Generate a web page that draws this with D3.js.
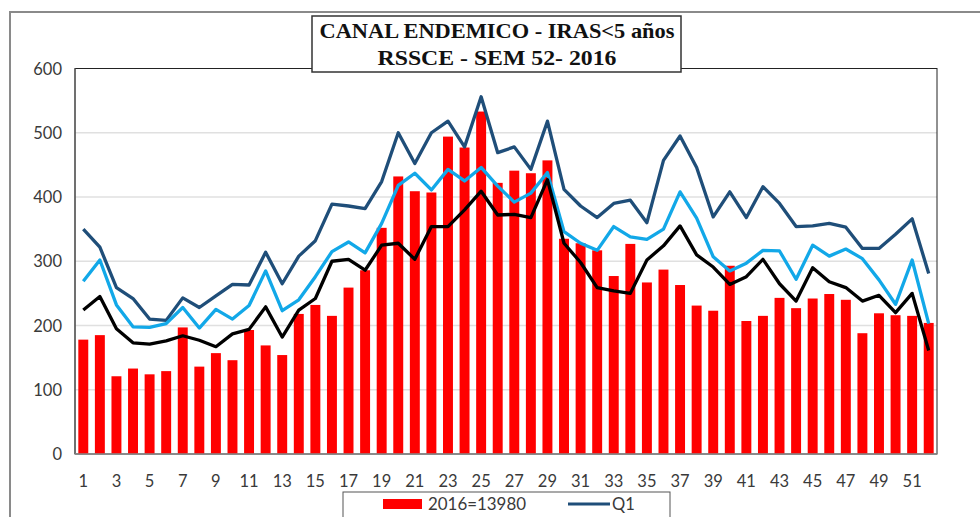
<!DOCTYPE html>
<html>
<head>
<meta charset="utf-8">
<script src="https://cdn.jsdelivr.net/npm/d3@7"></script>
<style>
  body { margin: 0; background: #fff; }
  svg { display: block; font-family: Lato, "Open Sans", sans-serif; }
  .tick-label { font-size: 16.5px; fill: #3a3a3a; }
  .title { font-family: "Liberation Serif", "DejaVu Serif", serif; font-weight: bold; font-size: 22px; fill: #111; }
</style>
</head>
<body>
<div id="chart"></div>
<script>
// semanas epidemiologicas
const weeks = d3.range(1, 53);

// casos 2016 (barras)
const cases2016 = [178, 185, 121, 133, 124, 129, 197, 136, 157, 146,
  193, 169, 154, 218, 232, 215, 259, 286, 352, 432,
  409, 407, 494, 477, 533, 422, 441, 437, 457, 335,
  328, 317, 277, 327, 267, 287, 263, 231, 223, 293,
  207, 215, 243, 227, 242, 249, 240, 188, 219, 216, 215, 204];

// linea superior (azul oscuro)
const q3 = [350, 322, 259, 242, 210, 208, 243, 228, 246, 264,
  263, 314, 265, 308, 332, 389, 386, 382, 424, 500,
  452, 500, 518, 478, 556, 469, 478, 443, 518, 412,
  386, 368, 390, 395, 360, 457, 495, 446, 369, 408,
  368, 416, 390, 354, 355, 359, 353, 320, 320, 342, 366, 281];

// mediana (celeste)
const median = [269, 302, 232, 198, 197, 203, 228, 196, 225, 210,
  231, 285, 223, 240, 276, 315, 330, 313, 359, 418,
  437, 411, 443, 425, 446, 417, 392, 406, 438, 346,
  328, 317, 354, 338, 334, 350, 408, 367, 307, 285,
  297, 317, 316, 272, 325, 308, 319, 304, 271, 233, 302, 203];

// linea inferior (negro)
const q1 = [224, 245, 195, 173, 171, 176, 184, 177, 167, 187,
  194, 229, 182, 224, 242, 300, 303, 286, 325, 328,
  303, 354, 354, 380, 409, 372, 373, 368, 427, 328,
  298, 259, 254, 250, 302, 324, 355, 310, 291, 264,
  276, 303, 265, 238, 290, 268, 259, 238, 247, 220, 250, 161];

const yTicks = [0, 100, 200, 300, 400, 500, 600];
const xLabels = weeks.filter(d => d % 2 === 1);

let width = 980,
    height = 517,
    margin = {top: 68.5, left: 75, right: 43, bottom: 63};

let svg = d3.select('#chart')
    .append('svg')
    .attr('width', width)
    .attr('height', height);

// x scale
let xScale = d3.scaleBand()
    .domain(weeks)
    .range([margin.left, width - margin.right])
    .paddingInner(0.4)
    .paddingOuter(0.2);

// y scale
let yScale = d3.scaleLinear()
    .domain([0, 600])
    .range([height - margin.bottom, margin.top]);

// outer chart frame
svg.append('path')
    .attr('d', `M10,${height} L10,12 L${width},12`)
    .attr('fill', 'none')
    .attr('stroke', '#8a8a8a')
    .attr('stroke-width', 2);

// grid lines
svg.append('g')
    .selectAll('line')
    .data(yTicks.filter(d => d > 0 && d < 600))
    .join('line')
    .attr('x1', margin.left)
    .attr('x2', width - margin.right)
    .attr('y1', d => yScale(d))
    .attr('y2', d => yScale(d))
    .attr('stroke', '#e0e0e0')
    .attr('stroke-width', 1.5);

// plot area border
svg.append('rect')
    .attr('x', margin.left)
    .attr('y', margin.top)
    .attr('width', width - margin.right - margin.left)
    .attr('height', height - margin.bottom - margin.top)
    .attr('fill', 'none')
    .attr('stroke', '#222')
    .attr('stroke-width', 1);

// bars
svg.append('g')
    .selectAll('rect')
    .data(cases2016)
    .join('rect')
    .attr('x', (d, i) => xScale(weeks[i]))
    .attr('y', d => yScale(d))
    .attr('width', xScale.bandwidth())
    .attr('height', d => yScale(0) - yScale(d))
    .attr('fill', '#ff0000');

// lines
let line = d3.line()
    .x((d, i) => xScale(weeks[i]) + xScale.bandwidth() / 2)
    .y(d => yScale(d));

[[q3, '#1f4e79'], [median, '#12a8e8'], [q1, '#000000']].forEach(([values, color]) => {
    svg.append('path')
        .datum(values)
        .attr('d', line)
        .attr('fill', 'none')
        .attr('stroke', color)
        .attr('stroke-width', 3.3)
        .attr('stroke-linejoin', 'round');
});

// axis lines
svg.append('line')
    .attr('x1', margin.left).attr('x2', margin.left)
    .attr('y1', margin.top).attr('y2', yScale(0))
    .attr('stroke', '#666').attr('stroke-width', 1.5);
svg.append('line')
    .attr('x1', margin.left).attr('x2', width - margin.right)
    .attr('y1', yScale(0)).attr('y2', yScale(0))
    .attr('stroke', '#888').attr('stroke-width', 1.5);

// y tick labels
svg.append('g')
    .selectAll('text')
    .data(yTicks)
    .join('text')
    .classed('tick-label', true)
    .attr('x', 62)
    .attr('y', d => yScale(d) + 6)
    .attr('text-anchor', 'end')
    .text(d => d);

// x tick labels
svg.append('g')
    .selectAll('text')
    .data(xLabels)
    .join('text')
    .classed('tick-label', true)
    .attr('x', d => xScale(d) + xScale.bandwidth() / 2)
    .attr('y', 487)
    .attr('text-anchor', 'middle')
    .text(d => d);

// title box
svg.append('rect')
    .attr('x', 312)
    .attr('y', 16)
    .attr('width', 369)
    .attr('height', 56)
    .attr('fill', '#fff')
    .attr('stroke', '#333')
    .attr('stroke-width', 1.5);

svg.append('text')
    .classed('title', true)
    .attr('x', 497)
    .attr('y', 38)
    .attr('text-anchor', 'middle')
    .attr('textLength', 355)
    .attr('lengthAdjust', 'spacingAndGlyphs')
    .text('CANAL ENDEMICO - IRAS<5 años');

svg.append('text')
    .classed('title', true)
    .attr('x', 497)
    .attr('y', 65)
    .attr('text-anchor', 'middle')
    .attr('textLength', 239)
    .attr('lengthAdjust', 'spacingAndGlyphs')
    .text('RSSCE - SEM 52- 2016');

// legend
let legend = svg.append('g');
legend.append('rect')
    .attr('x', 343).attr('y', 492)
    .attr('width', 327).attr('height', 40)
    .attr('fill', '#fff')
    .attr('stroke', '#555')
    .attr('stroke-width', 1);
legend.append('rect')
    .attr('x', 383).attr('y', 499)
    .attr('width', 39).attr('height', 10)
    .attr('fill', '#ff0000');
legend.append('text')
    .classed('tick-label', true)
    .attr('x', 428).attr('y', 510)
    .attr('textLength', 98)
    .attr('lengthAdjust', 'spacingAndGlyphs')
    .text('2016=13980');
legend.append('line')
    .attr('x1', 568).attr('x2', 610)
    .attr('y1', 504).attr('y2', 504)
    .attr('stroke', '#1f4e79').attr('stroke-width', 3);
legend.append('text')
    .classed('tick-label', true)
    .attr('x', 612).attr('y', 510)
    .text('Q1');
</script>
</body>
</html>
